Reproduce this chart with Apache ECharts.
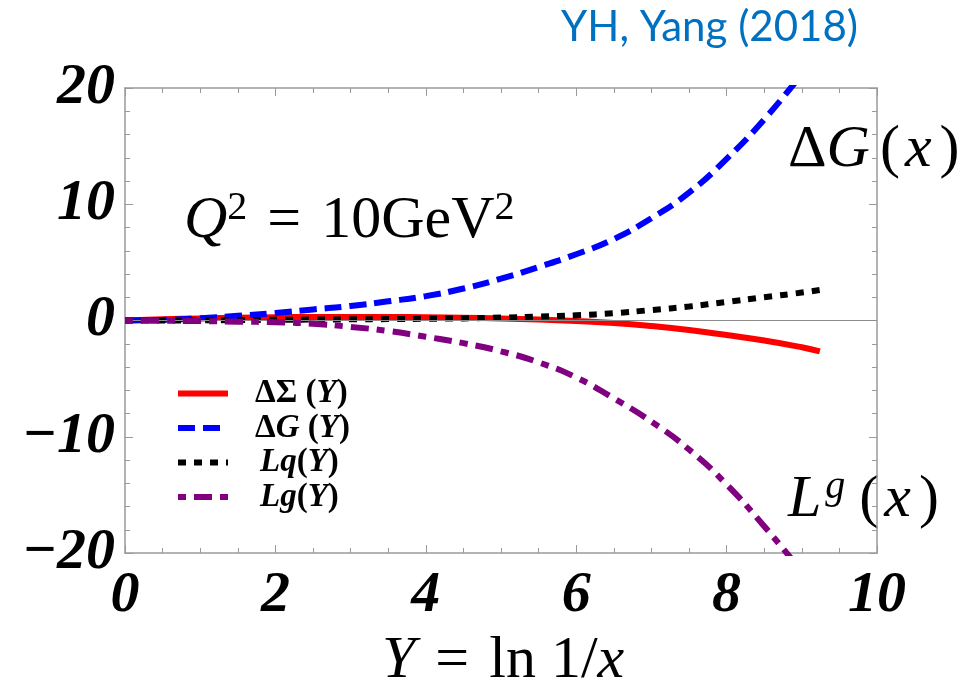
<!DOCTYPE html>
<html>
<head>
<meta charset="utf-8">
<script src="https://cdn.jsdelivr.net/npm/echarts@6/dist/echarts.min.js"></script>
<style>
  html, body { margin: 0; padding: 0; background: #fff; }
  #chart { width: 979px; height: 698px; }
</style>
</head>
<body>
<div id="chart"></div>
<script>
// Helicity and orbital angular momentum distributions vs Y = ln 1/x at Q^2 = 10 GeV^2
const yGrid = [0, 0.5, 1, 1.5, 2, 2.5, 3, 3.5, 4, 4.5, 5, 5.5, 6, 6.5, 7, 7.5, 8, 8.5, 9, 9.24];
const sigmaVals = [0, 0.1, 0.18, 0.24, 0.28, 0.3, 0.3, 0.3, 0.28, 0.24, 0.17, 0.08, -0.05, -0.22, -0.48, -0.82, -1.25, -1.72, -2.3, -2.65];
const lqVals = [0, 0, 0.02, 0.04, 0.06, 0.08, 0.1, 0.12, 0.15, 0.18, 0.25, 0.33, 0.45, 0.63, 0.9, 1.2, 1.6, 2.0, 2.4, 2.62];

const yGridG = [0, 0.5, 1, 1.5, 2, 2.5, 3, 3.5, 4, 4.5, 5, 5.5, 6, 6.5, 7, 7.5, 8, 8.5, 9];
const deltaGVals = [0, 0.05, 0.2, 0.4, 0.65, 0.95, 1.25, 1.65, 2.1, 2.75, 3.6, 4.6, 5.7, 7.0, 8.8, 11.0, 13.9, 17.3, 21.2];
const lgVals = [0, -0.02, -0.05, -0.1, -0.15, -0.28, -0.55, -0.9, -1.4, -1.95, -2.65, -3.6, -4.9, -6.7, -8.7, -11.1, -14.1, -17.7, -21.6];

const xTicks = { min: 0, max: 10, interval: 2 };
const yTicks = { min: -20, max: 20, interval: 10 };

const seriesNames = ['ΔΣ (Y)', 'ΔG (Y)', 'Lq(Y)', 'Lg(Y)'];

const pair = (xs, ys) => xs.map((x, i) => [x, ys[i]]);

const SERIF = '"Liberation Serif", "Times New Roman", serif';
const GRAY = '#9a9a9a';

const chart = echarts.init(document.getElementById('chart'), null, { renderer: 'canvas' });

const tickLabel = {
  fontFamily: SERIF, fontWeight: 'bold', fontStyle: 'italic', fontSize: 58, color: '#000'
};

function axisBase(extra) {
  return Object.assign({
    type: 'value',
    axisLine: { show: true, onZero: false, lineStyle: { color: GRAY, width: 1.5 } },
    axisTick: { show: true, inside: true, length: 8, lineStyle: { color: GRAY, width: 1 } },
    splitLine: { show: false },
    minorSplitLine: { show: false }
  }, extra);
}

const LF = 33;
const legendRich = {
  b: { fontFamily: SERIF, fontWeight: 'bold', fontSize: LF, lineHeight: 30, color: '#000' },
  bi: { fontFamily: SERIF, fontWeight: 'bold', fontStyle: 'italic', fontSize: LF, lineHeight: 30, color: '#000' },
  b0: { fontFamily: SERIF, fontWeight: 'bold', fontSize: LF, lineHeight: 30, color: '#000', padding: [0, 0, 0, 22] },
  bi0: { fontFamily: SERIF, fontWeight: 'bold', fontStyle: 'italic', fontSize: LF, lineHeight: 30, color: '#000', padding: [0, 0, 0, 27] }
};
const legendText = {
  'ΔΣ (Y)': '{b0|ΔΣ (}{bi|Y}{b|)}',
  'ΔG (Y)': '{b0|Δ}{bi|G}{b| (}{bi|Y}{b|)}',
  'Lq(Y)': '{bi0|Lq}{b|(}{bi|Y}{b|)}',
  'Lg(Y)': '{bi0|Lg}{b|(}{bi|Y}{b|)}'
};

const MF = 60;
const mathRich = {
  r: { fontFamily: SERIF, fontSize: MF, lineHeight: 66, color: '#000' },
  i: { fontFamily: SERIF, fontStyle: 'italic', fontSize: MF, lineHeight: 66, color: '#000' },
  ip: { fontFamily: SERIF, fontStyle: 'italic', fontSize: MF, lineHeight: 66, color: '#000', padding: [0, 10, 0, 0] },
  ix: { fontFamily: SERIF, fontStyle: 'italic', fontSize: MF, lineHeight: 66, color: '#000', padding: [0, 8, 0, 5] },
  eq: { fontFamily: SERIF, fontSize: MF, lineHeight: 66, color: '#000', padding: [0, 20, 0, 20] },
  s: { fontFamily: SERIF, fontSize: 40, lineHeight: 30, verticalAlign: 'top', color: '#000' },
  sg: { fontFamily: SERIF, fontStyle: 'italic', fontSize: 40, lineHeight: 46, verticalAlign: 'top', color: '#000', padding: [0, 14, 0, 4] }
};

function mathText(x, y, text) {
  return {
    type: 'text', x: x, y: y, silent: true,
    style: { text: text, rich: mathRich, align: 'left', verticalAlign: 'top' }
  };
}

const option = {
  animation: false,
  backgroundColor: '#fff',
  grid: { left: 125, right: 102, top: 88, bottom: 145, containLabel: false },
  xAxis: [
    axisBase(Object.assign({}, xTicks, {
      position: 'bottom',
      minorTick: { show: true, splitNumber: 4, length: 5, lineStyle: { color: GRAY, width: 1 } },
      axisLabel: Object.assign({ margin: 14 }, tickLabel)
    })),
    axisBase(Object.assign({}, xTicks, {
      position: 'top',
      minorTick: { show: true, splitNumber: 4, length: 5, lineStyle: { color: GRAY, width: 1 } },
      axisLabel: { show: false }
    }))
  ],
  yAxis: [
    axisBase(Object.assign({}, yTicks, {
      position: 'left',
      minorTick: { show: true, splitNumber: 5, length: 5, lineStyle: { color: GRAY, width: 1 } },
      axisLabel: Object.assign({
        margin: 10,
        formatter: v => (v < 0 ? '\u2212' + Math.abs(v) : String(v))
      }, tickLabel)
    })),
    axisBase(Object.assign({}, yTicks, {
      position: 'right',
      minorTick: { show: true, splitNumber: 5, length: 5, lineStyle: { color: GRAY, width: 1 } },
      axisLabel: { show: false }
    }))
  ],
  legend: {
    orient: 'vertical',
    left: 170,
    top: 372,
    itemWidth: 50,
    itemHeight: 30,
    itemGap: 1.5,
    selectedMode: false,
    data: seriesNames,
    formatter: name => legendText[name],
    itemStyle: { opacity: 0 },
    lineStyle: { width: 6 },
    textStyle: { rich: legendRich }
  },
  series: [
    {
      name: seriesNames[0], type: 'line', data: pair(yGrid, sigmaVals),
      smooth: true, symbol: 'none', clip: true,
      lineStyle: { color: '#ff0000', width: 6, type: 'solid' },
      itemStyle: { color: '#ff0000' },
      markLine: {
        silent: true, symbol: 'none', label: { show: false },
        lineStyle: { color: '#8c8c8c', width: 1, type: 'solid' },
        data: [{ yAxis: 0 }]
      },
      z: 2
    },
    {
      name: seriesNames[1], type: 'line', data: pair(yGridG, deltaGVals),
      smooth: true, symbol: 'none', clip: true,
      lineStyle: { color: '#0000ff', width: 6, type: [17, 8] },
      itemStyle: { color: '#0000ff' },
      z: 3
    },
    {
      name: seriesNames[2], type: 'line', data: pair(yGrid, lqVals),
      smooth: true, symbol: 'none', clip: true,
      lineStyle: { color: '#000000', width: 6, type: [8, 8] },
      itemStyle: { color: '#000000' },
      z: 4
    },
    {
      name: seriesNames[3], type: 'line', data: pair(yGridG, lgVals),
      smooth: true, symbol: 'none', clip: true,
      lineStyle: { color: '#800080', width: 6, type: [8, 8, 18, 8] },
      itemStyle: { color: '#800080' },
      z: 5
    }
  ],
  graphic: [
    {
      type: 'text', right: 979 - 858, top: 6, silent: true,
      style: { text: 'YH, Yang (2018)', fontFamily: 'Lato, "Open Sans", sans-serif', fontSize: 42, fill: '#0070c0' }
    },
    mathText(184, 188, '{i|Q}{s|2}{eq|=}{r|10GeV}{s|2}'),
    mathText(788, 117, '{r|Δ}{ip|G}{r|(}{ix|x}{r|)}'),
    mathText(788, 467, '{i|L}{sg|g}{r|(}{ix|x}{r|)}'),
    mathText(382, 628, '{i|Y}{eq|=}{r|ln 1/}{i|x}')
  ]
};

chart.setOption(option);
</script>
</body>
</html>
